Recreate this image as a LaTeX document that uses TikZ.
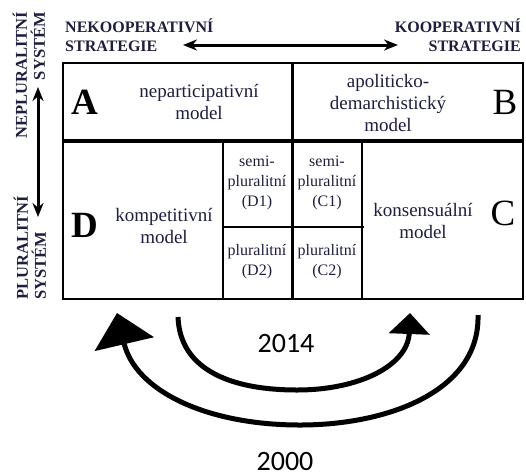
\documentclass[tikz,border=0pt]{standalone}
\usepackage{fontspec}
\setmainfont{Liberation Serif}
\newfontfamily\calibri{Carlito}
\usetikzlibrary{arrows.meta}
\definecolor{ink}{RGB}{30,30,62}

\begin{document}
\begin{tikzpicture}[x=1pt,y=-1pt,>={Stealth[length=14pt,width=11pt]},
    head/.style={font=\fontsize{16}{19}\selectfont\bfseries,text=ink,inner sep=0pt},
    side/.style={font=\fontsize{16.5}{18}\selectfont\bfseries,text=ink,inner sep=0pt,rotate=90},
    cell/.style={font=\fontsize{19}{22}\selectfont,text=ink,align=center,inner sep=0pt},
    sub/.style={font=\fontsize{16}{20}\selectfont,text=ink,align=center,inner sep=0pt},
    big/.style={font=\fontsize{37}{37}\selectfont,inner sep=0pt},
    bigb/.style={font=\fontsize{37}{37}\selectfont\bfseries,inner sep=0pt},
    year/.style={font=\calibri\fontsize{28}{28}\selectfont,inner sep=0pt},
    swing/.style={line width=5pt}]
      \useasboundingbox (0,0) rectangle (526,475);

      % strategie
      \node[head,align=left,anchor=west] (nekoop) at (65,35) {NEKOOPERATIVNÍ\\STRATEGIE};
      \node[head,align=right,anchor=east] (koop) at (521,35) {KOOPERATIVNÍ\\STRATEGIE};
      \node[side,align=right,anchor=east] (neplur) at (29,12) {NEPLURALITNÍ\\SYSTÉM};
      \node[side,align=left,anchor=west] (plur) at (30,300) {PLURALITNÍ\\SYSTÉM};
      \coordinate (hl) at (183,45);
      \coordinate (hr) at (398,45);
      \coordinate (vt) at (38,87);
      \coordinate (vb) at (38,217);

      \path[<->,line width=3pt]
      (hl) edge (hr)
      (vt) edge (vb)
      ;

      % table
      \draw[line width=2.5pt] (63,63) rectangle (523,299);
      \draw[line width=3.5pt] (63,141) -- (523,141);
      \draw[line width=3pt] (292,63) -- (292,299);
      \draw[line width=1.5pt] (223,141) -- (223,299) (362,141) -- (362,299);
      \draw[line width=2.5pt] (223,227) -- (364,227);

      \node[bigb] (a) at (85,102) {A};
      \node[cell] (np) at (199,102) {neparticipativní\\model};
      \node[cell] (ap) at (388,103) {apoliticko-\\demarchistický\\model};
      \node[big] (b) at (505,102) {B};
      \node[bigb] (d) at (85,225) {D};
      \node[cell] (komp) at (164,226) {kompetitivní\\model};
      \node[sub] (d1) at (257,183) {semi-\\pluralitní\\(D1)};
      \node[sub] (d2) at (257,262) {pluralitní\\(D2)};
      \node[sub] (c1) at (327,183) {semi-\\pluralitní\\(C1)};
      \node[sub] (c2) at (327,262) {pluralitní\\(C2)};
      \node[cell] (kons) at (423,221) {konsensuální\\model};
      \node[big] (c) at (503,213) {C};

      % roky
      \coordinate (s14) at (178,317);
      \coordinate (e14) at (410,313);
      \coordinate (s00) at (478,315);
      \coordinate (e00) at (117,313);
      \draw[swing,-{Triangle[length=21pt,width=40pt]}]
        (s14) .. controls (180,372) and (235,390) .. (297,390)
        .. controls (360,390) and (408,365) .. (e14);
      \draw[swing,-{Triangle[length=32pt,width=60pt]}]
        (s00) .. controls (480,390) and (390,425) .. (300,425)
        .. controls (205,425) and (135,390) .. (e00);
      \node[year] (y14) at (286,343) {2014};
      \node[year] (y00) at (285,461) {2000};
    \end{tikzpicture}
\end{document}
